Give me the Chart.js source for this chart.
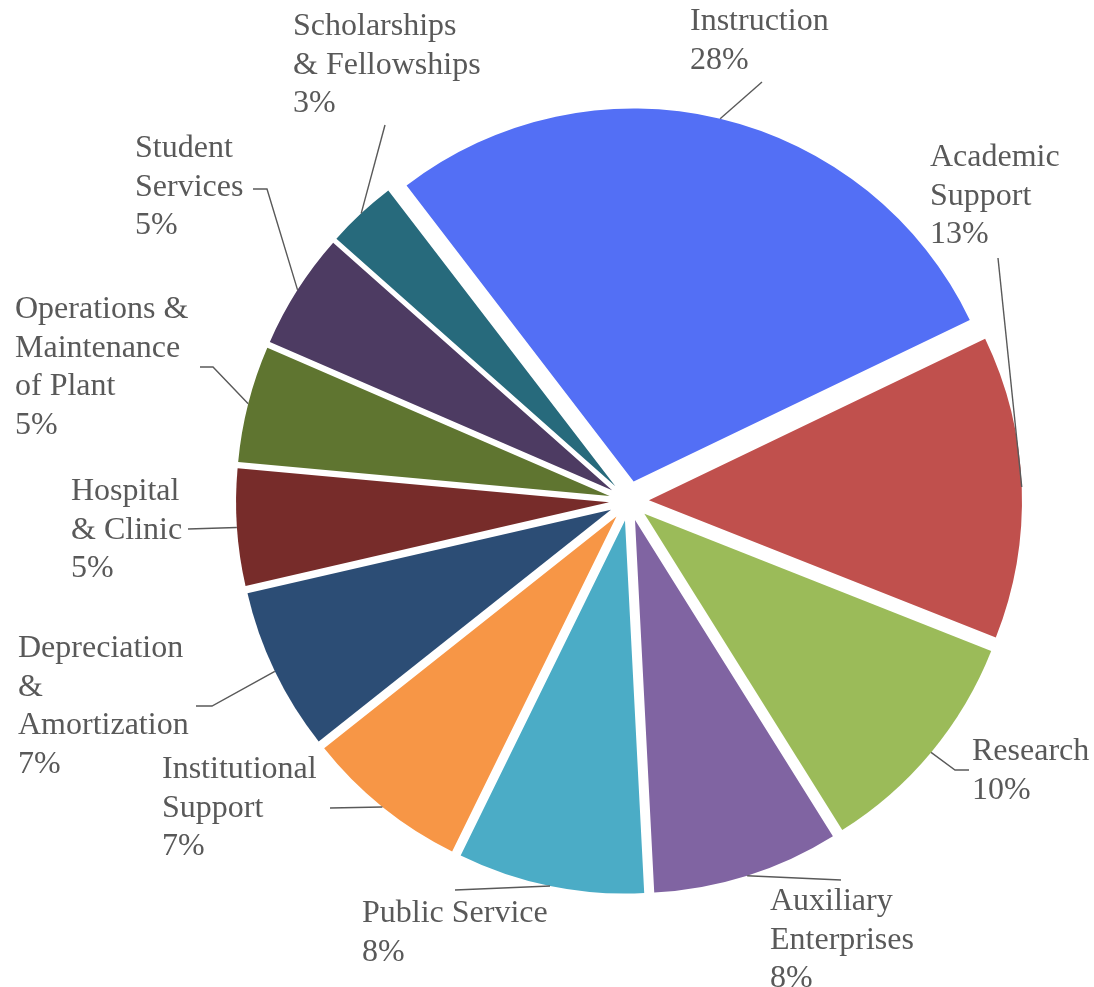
<!DOCTYPE html>
<html>
<head>
<meta charset="utf-8">
<title>Expenses by Function</title>
<script src="https://cdn.jsdelivr.net/npm/chart.js@4.4.1/dist/chart.umd.min.js"></script>
<style>
    html, body { margin: 0; padding: 0; background: #ffffff; }
    #wrap { position: relative; width: 1094px; height: 987px; }
</style>
</head>
<body>
<div id="wrap"><canvas id="expenseChart"></canvas></div>
<script>
// Categories (one entry per wrapped line) and their share of total expenses
const categories = [
    ['Instruction'],
    ['Academic', 'Support'],
    ['Research'],
    ['Auxiliary', 'Enterprises'],
    ['Public Service'],
    ['Institutional', 'Support'],
    ['Depreciation', '&', 'Amortization'],
    ['Hospital', '& Clinic'],
    ['Operations &', 'Maintenance', 'of Plant'],
    ['Student', 'Services'],
    ['Scholarships', '& Fellowships']
];
const percentages = [28, 13, 10, 8, 8, 7, 7, 5, 5, 5, 3];

const sliceColors = [
    '#536FF5', '#C0504D', '#9BBB59', '#8064A2', '#4BACC6', '#F79646',
    '#2C4D75', '#772C2A', '#5F7530', '#4D3B62', '#276A7C'
];

// Where each label's text starts (first baseline) and the elbow points of its leader line
const labelSpots = [
    { x: 690, y: 30,  leader: [[762, 82]] },
    { x: 930, y: 166, leader: [[998, 258]] },
    { x: 972, y: 760, leader: [[969, 770], [955, 770]] },
    { x: 770, y: 910, leader: [[841, 880]] },
    { x: 362, y: 922, leader: [[455, 890]] },
    { x: 162, y: 778, leader: [[330, 808]] },
    { x: 18,  y: 657, leader: [[196, 706], [212, 706]] },
    { x: 71,  y: 500, leader: [[188, 529]] },
    { x: 15,  y: 318, leader: [[200, 367], [213, 367]] },
    { x: 135, y: 157, leader: [[253, 189], [267, 189]] },
    { x: 293, y: 35,  leader: [[385, 125]] }
];

const TEXT_COLOR = '#595959';
const LINE_GAP = 38.5;
const EXPLODE = 20;   // every slice is pulled out from the centre by this many px

// push each slice outward along its middle angle without growing its radius
const explodePlugin = {
    id: 'explode',
    afterDatasetUpdate(chart, args) {
        const meta = chart.getDatasetMeta(args.index);
        meta.data.forEach(arc => {
            const mid = (arc.startAngle + arc.endAngle) / 2;
            arc.x += Math.cos(mid) * EXPLODE;
            arc.y += Math.sin(mid) * EXPLODE;
        });
    }
};

// outside labels with leader lines
const labelPlugin = {
    id: 'sliceLabels',
    afterDatasetsDraw(chart) {
        const ctx = chart.ctx;
        const meta = chart.getDatasetMeta(0);
        ctx.save();
        ctx.font = '32px "Liberation Serif", "Times New Roman", serif';
        ctx.textAlign = 'left';
        ctx.textBaseline = 'alphabetic';
        ctx.fillStyle = TEXT_COLOR;
        ctx.strokeStyle = TEXT_COLOR;
        ctx.lineWidth = 1.4;

        meta.data.forEach((arc, i) => {
            const spot = labelSpots[i];
            const lines = chart.data.labels[i].concat(percentages[i] + '%');
            lines.forEach((line, k) => {
                ctx.fillText(line, spot.x, spot.y + k * LINE_GAP);
            });

            const mid = (arc.startAngle + arc.endAngle) / 2;
            const ex = arc.x + Math.cos(mid) * arc.outerRadius;
            const ey = arc.y + Math.sin(mid) * arc.outerRadius;
            ctx.beginPath();
            ctx.moveTo(spot.leader[0][0], spot.leader[0][1]);
            spot.leader.slice(1).forEach(p => ctx.lineTo(p[0], p[1]));
            ctx.lineTo(ex, ey);
            ctx.stroke();
        });
        ctx.restore();
    }
};

const expenseChart = new Chart(document.getElementById('expenseChart'), {
    type: 'pie',
    data: {
        labels: categories,
        datasets: [{
            data: percentages,
            backgroundColor: sliceColors,
            borderWidth: 0,
            hoverBorderWidth: 0,
            hoverOffset: 0
        }]
    },
    options: {
        responsive: true,
        maintainAspectRatio: false,
        animation: false,
        rotation: -37.5,
        layout: {
            padding: { left: 256, right: 92, top: 128, bottom: 113 }
        },
        plugins: {
            legend: { display: false },
            tooltip: { enabled: false }
        }
    },
    plugins: [explodePlugin, labelPlugin]
});
</script>
</body>
</html>
